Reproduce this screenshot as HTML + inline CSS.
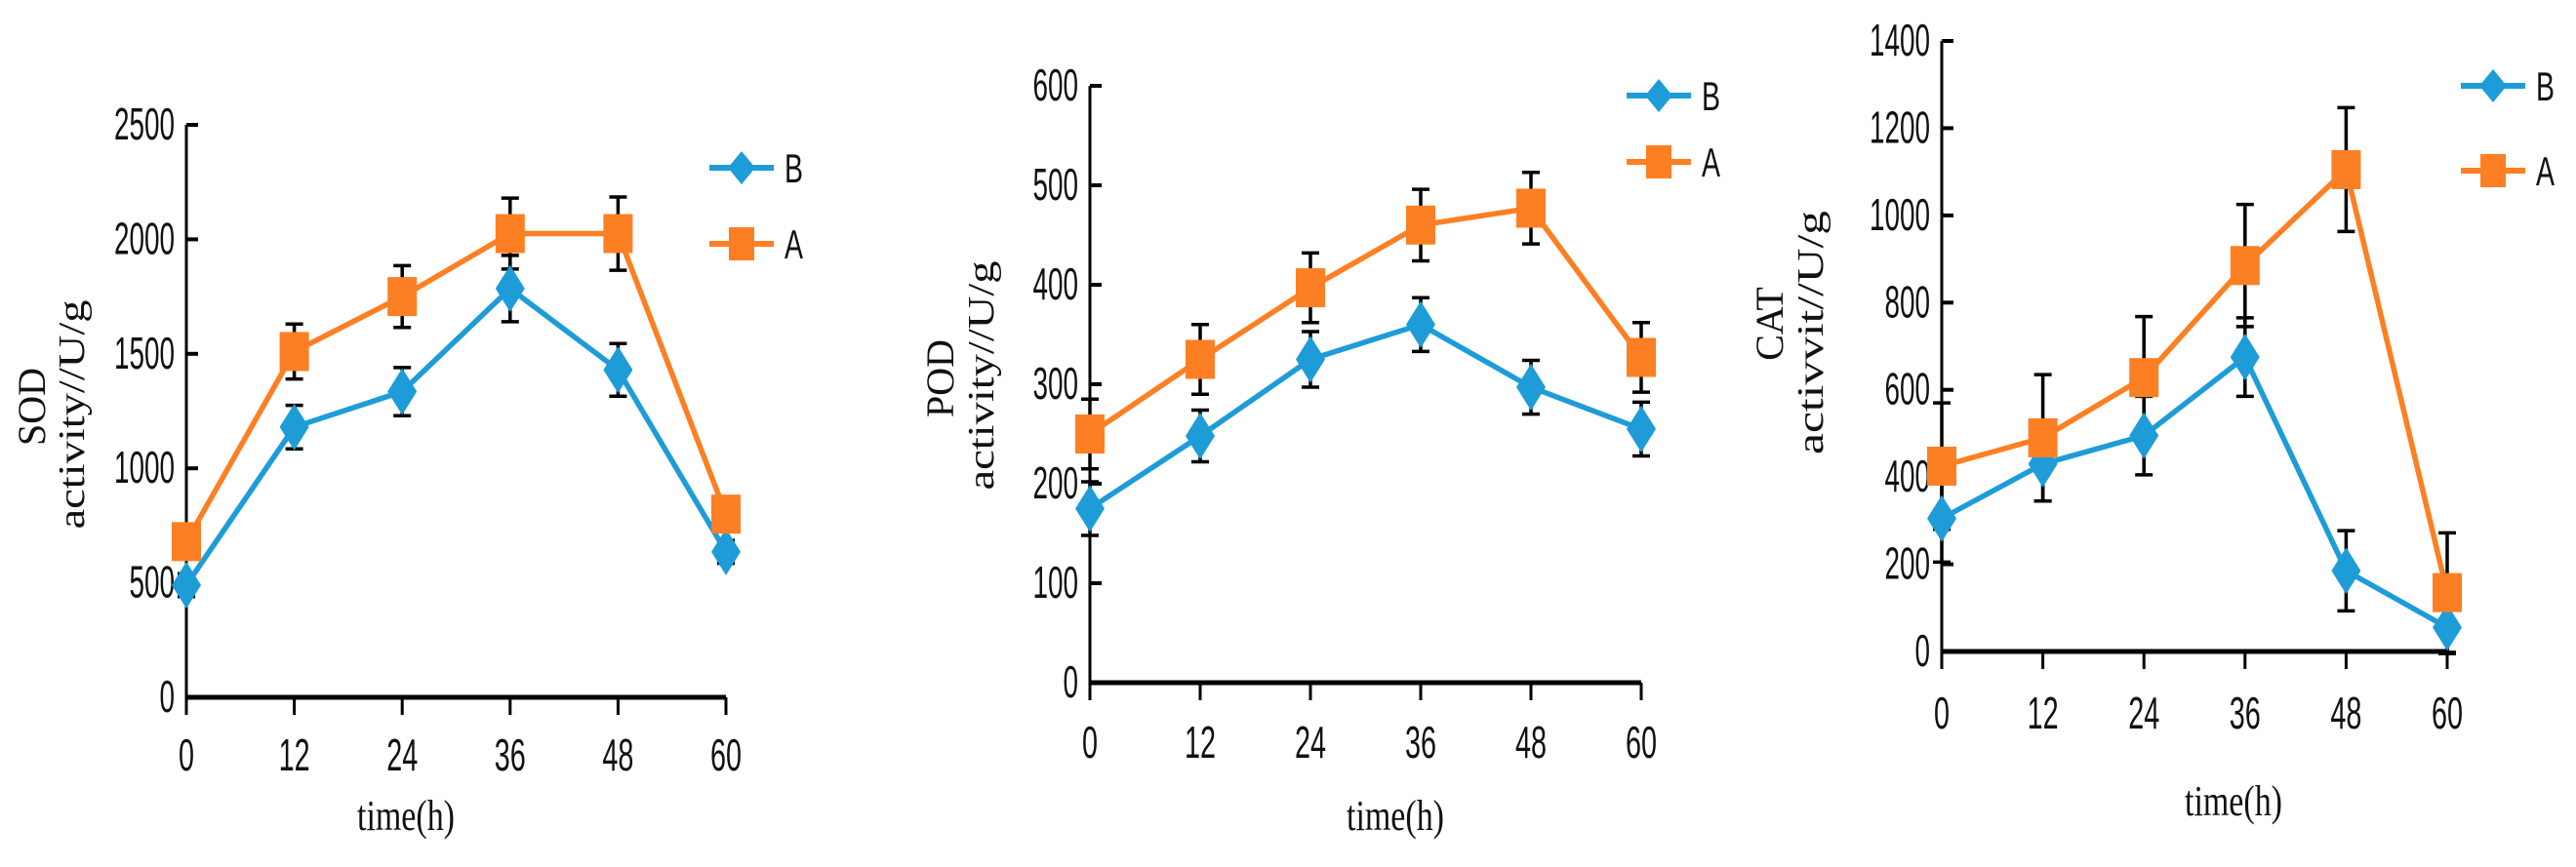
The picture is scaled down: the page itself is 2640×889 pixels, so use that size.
<!DOCTYPE html>
<html><head><meta charset="utf-8"><style>
html,body{margin:0;padding:0;background:#fff;}
svg{display:block;}
.tk{font-family:"Liberation Sans Narrow","Liberation Sans",sans-serif;fill:#111;}
.ttl{font-family:"Liberation Serif",serif;fill:#111;}
</style></head><body>
<svg id="chart" width="2640" height="889" viewBox="0 0 2640 889" xmlns="http://www.w3.org/2000/svg"></svg>
<script>
const times = [0, 12, 24, 36, 48, 60];
const xTickLabels = ["0", "12", "24", "36", "48", "60"];
const sodB = [490, 1180, 1335, 1785, 1430, 635];
const sodA = [680, 1510, 1750, 2025, 2025, 800];
const sodBErr = [50, 95, 105, 145, 115, 50];
const sodAErr = [50, 120, 135, 155, 160, 50];
const sodTicks = [0, 500, 1000, 1500, 2000, 2500];
const podB = [175, 248, 325, 360, 297, 255];
const podA = [250, 325, 397, 460, 477, 327];
const podBErr = [27, 26, 28, 27, 27, 27];
const podAErr = [35, 35, 35, 36, 36, 35];
const podTicks = [0, 100, 200, 300, 400, 500, 600];
const catB = [305, 430, 495, 675, 185, 55];
const catA = [425, 490, 628, 885, 1105, 135];
const catBErr = [100, 85, 90, 90, 92, 60];
const catAErr = [145, 145, 140, 140, 142, 137];
const catTicks = [0, 200, 400, 600, 800, 1000, 1200, 1400];
const seriesNames = ["B", "A"];

const NS = "http://www.w3.org/2000/svg";
const svg = document.getElementById("chart");
const BLUE = "#1e9cd8", ORANGE = "#fd7f23";
function mk(tag, attrs, parent) {
  const e = document.createElementNS(NS, tag);
  for (const k in attrs) e.setAttribute(k, attrs[k]);
  (parent || svg).appendChild(e);
  return e;
}

function panel(cfg) {
  const g = mk("g", {});
  
  
  const ymax = cfg.ticks[cfg.ticks.length - 1];
  const xS = t => cfg.x0 + (t / 60) * (cfg.x1 - cfg.x0);
  const yS = v => cfg.y0 - (v / ymax) * (cfg.y0 - cfg.yTop);
  const ya = mk("line", {x1: cfg.x0, y1: yS(ymax), x2: cfg.x0, y2: cfg.y0 + 18, stroke: "#000", "stroke-width": 3}, g);
  
  
  cfg.ticks.forEach(v => {
    const t = mk("line", {x1: cfg.x0, y1: yS(v), x2: cfg.x0 + 12, y2: yS(v), stroke: "#000", "stroke-width": 4}, g);
    
    
    const lbl = mk("text", {x: cfg.x0 - 12, y: yS(v) + 15, "text-anchor": "end", "font-size": 46, class: "tk", textLength: String(v).length * 15.5, lengthAdjust: "spacingAndGlyphs"}, g);
    lbl.textContent = v;
    
    
  });
  const xa = mk("line", {x1: cfg.x0, y1: cfg.y0, x2: cfg.x1, y2: cfg.y0, stroke: "#000", "stroke-width": 5}, g);
  
  
  times.forEach((t, i) => {
    const tk = mk("line", {x1: xS(t), y1: cfg.y0, x2: xS(t), y2: cfg.y0 + 18, stroke: "#000", "stroke-width": 3}, g);
    
    
    const s = xTickLabels[i];
    const lbl = mk("text", {x: xS(t), y: cfg.xLabY + 16, "text-anchor": "middle", "font-size": 46, class: "tk", textLength: s.length * 16, lengthAdjust: "spacingAndGlyphs"}, g);
    lbl.textContent = s;
    
    
  });
  const xt = mk("text", {x: cfg.xtX, y: cfg.xtY + 14, "text-anchor": "middle", "font-size": 44, class: "ttl", textLength: 100, lengthAdjust: "spacingAndGlyphs"}, g);
  xt.textContent = "time(h)";
  
  
  const yt1 = mk("text", {x: 0, y: 0, "text-anchor": "middle", "font-size": 40, class: "ttl", transform: `translate(${cfg.yt1X},${cfg.ytY}) rotate(-90)`}, g);
  yt1.textContent = cfg.yt1;
  
  
  const yt2 = mk("text", {x: 0, y: 0, "text-anchor": "middle", "font-size": 38, class: "ttl", textLength: cfg.yt2Len, lengthAdjust: "spacingAndGlyphs", transform: `translate(${cfg.yt2X},${cfg.ytY2}) rotate(-90)`}, g);
  yt2.textContent = cfg.yt2;
  
  

  const series = [{vals: cfg.B, err: cfg.BErr, color: BLUE, kind: "diamond", name: "B"},
                  {vals: cfg.A, err: cfg.AErr, color: ORANGE, kind: "square", name: "A"}];
  series.forEach(s => {
    s.vals.forEach((v, i) => {
      const x = xS(times[i]);
      const eb = mk("path", {d: `M${x},${yS(v + s.err[i])}V${yS(v - s.err[i])}M${x - 9},${yS(v + s.err[i])}H${x + 9}M${x - 9},${yS(v - s.err[i])}H${x + 9}`, stroke: "#000", "stroke-width": 3.5, fill: "none"}, g);
      
      
    });
  });
  series.forEach(s => {
    const pts = s.vals.map((v, i) => xS(times[i]) + "," + yS(v)).join(" ");
    const pl = mk("polyline", {points: pts, fill: "none", stroke: s.color, "stroke-width": 5.5}, g);
    
    
    s.vals.forEach((v, i) => {
      const x = xS(times[i]), y = yS(v);
      let m;
      if (s.kind === "square") m = mk("rect", {x: x - 15, y: y - 20, width: 30, height: 40, fill: s.color}, g);
      else m = mk("polygon", {points: `${x},${y - 24} ${x + 15},${y} ${x},${y + 24} ${x - 15},${y}`, fill: s.color}, g);
      
      
    });
  });
  series.forEach((s, k) => {
    const ly = k === 0 ? cfg.legBY : cfg.legAY;
    const lg = mk("g", {}, g);
    
    
    mk("line", {x1: cfg.legX - 33, y1: ly, x2: cfg.legX + 33, y2: ly, stroke: s.color, "stroke-width": 6}, lg);
    if (s.kind === "square") mk("rect", {x: cfg.legX - 13, y: ly - 17, width: 26, height: 34, fill: s.color}, lg);
    else mk("polygon", {points: `${cfg.legX},${ly - 17} ${cfg.legX + 14},${ly} ${cfg.legX},${ly + 17} ${cfg.legX - 14},${ly}`, fill: s.color}, lg);
    const t = mk("text", {x: cfg.legX + 44, y: ly + 15, "font-size": 42, class: "tk", textLength: 19, lengthAdjust: "spacingAndGlyphs"}, lg);
    t.textContent = seriesNames[k];
  });
}

panel({name: "sod", x0: 191, x1: 744, y0: 715, yTop: 128, ticks: sodTicks, B: sodB, A: sodA, BErr: sodBErr, AErr: sodAErr,
  xLabY: 774, xtX: 416, xtY: 837, yt1: "SOD", yt1X: 46, ytY: 417, yt2: "activity//U/g", yt2X: 86, ytY2: 425, yt2Len: 235,
  legX: 760, legBY: 172, legAY: 250});
panel({name: "pod", x0: 1117, x1: 1682, y0: 700, yTop: 88, ticks: podTicks, B: podB, A: podA, BErr: podBErr, AErr: podAErr,
  xLabY: 761, xtX: 1430, xtY: 837, yt1: "POD", yt1X: 977, ytY: 388, yt2: "activity//U/g", yt2X: 1018, ytY2: 385, yt2Len: 235,
  legX: 1700, legBY: 98, legAY: 166});
panel({name: "cat", x0: 1990, x1: 2508, y0: 668, yTop: 42, ticks: catTicks, B: catB, A: catA, BErr: catBErr, AErr: catAErr,
  xLabY: 731, xtX: 2289, xtY: 822, yt1: "CAT", yt1X: 1827, ytY: 332, yt2: "activvit//U/g", yt2X: 1868, ytY2: 341, yt2Len: 250,
  legX: 2555, legBY: 88, legAY: 175});
</script>
</body></html>
